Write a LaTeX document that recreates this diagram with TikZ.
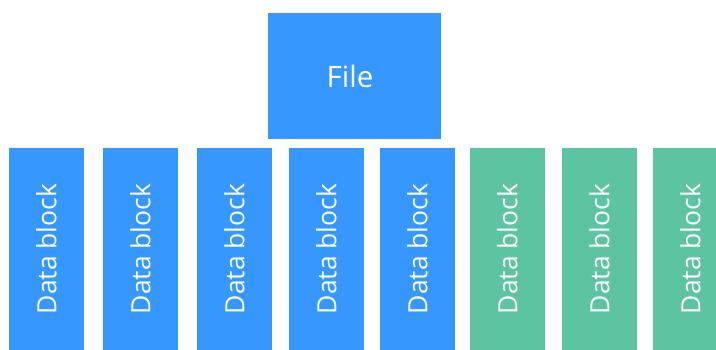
\documentclass[tikz,border=0pt]{standalone}
\usepackage{fontspec}
\setmainfont{Open Sans}
\definecolor{fileblue}{RGB}{54,151,255}
\definecolor{blockgreen}{RGB}{92,196,160}
\begin{document}
\begin{tikzpicture}[x=1pt,y=-1pt,
  box/.style={inner sep=0pt, outer sep=0pt, text=white},
  filebox/.style={box, fill=fileblue, minimum width=173pt, minimum height=126pt, font=\fontsize{29.5}{33}\selectfont},
  blockbox/.style={box, minimum width=75pt, minimum height=202pt, font=\fontsize{26.5}{30}\selectfont},
  blueblock/.style={blockbox, fill=fileblue},
  greenblock/.style={blockbox, fill=blockgreen}]
\useasboundingbox (0,0) rectangle (716,350);
\begin{scope}
\clip (0,0) rectangle (716,350);
\node[filebox] (file) at (354.5,76) {\hspace*{-9pt}File};
\node[blueblock] (b1) at (46.5,249) {\rotatebox{90}{Data block}};
\node[blueblock] (b2) at (140.5,249) {\rotatebox{90}{Data block}};
\node[blueblock] (b3) at (234.5,249) {\rotatebox{90}{Data block}};
\node[blueblock] (b4) at (326.5,249) {\rotatebox{90}{Data block}};
\node[blueblock] (b5) at (417.5,249) {\rotatebox{90}{Data block}};
\node[greenblock] (g1) at (507.5,249) {\rotatebox{90}{Data block}};
\node[greenblock] (g2) at (599.5,249) {\rotatebox{90}{Data block}};
\node[greenblock] (g3) at (690.5,249) {\rotatebox{90}{Data block}};
\end{scope}
\end{tikzpicture}
\end{document}
